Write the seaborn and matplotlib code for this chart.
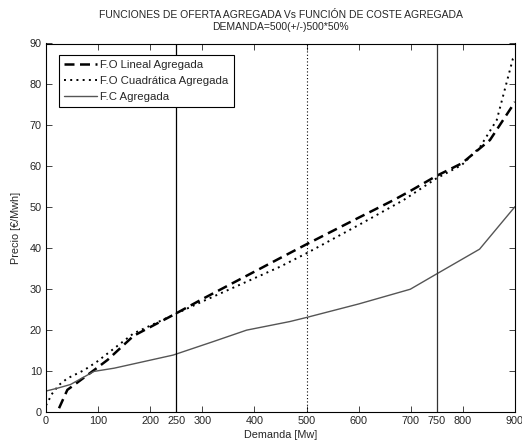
import matplotlib
matplotlib.use("Agg")
import matplotlib.pyplot as plt
import seaborn as sns
import pandas as pd

# Data
x_lineal = [25, 41, 54, 92, 118, 168, 244, 300, 400, 449, 500, 600, 667, 700, 749, 798, 852, 900]
y_lineal = [0.8, 5.3, 6.5, 10.1, 12.6, 18.5, 23.6, 27.5, 34.2, 37.5, 40.9, 47.4, 51.7, 54.0, 57.6, 60.7, 66.4, 75.7]

x_cuad = [0, 12, 25, 41, 73, 98, 168, 244, 300, 400, 449, 500, 600, 686, 749, 798, 833, 865, 896, 900]
y_cuad = [1.5, 4.4, 6.5, 8.1, 10.1, 12.2, 19.1, 23.6, 26.9, 32.6, 35.4, 38.7, 45.6, 51.7, 57.0, 60.3, 64.7, 71.3, 86.3, 87.0]

x_coste = [0, 22, 47, 92, 131, 244, 321, 385, 468, 500, 600, 699, 749, 832, 900]
y_coste = [5.0, 5.7, 6.6, 9.8, 10.6, 13.8, 17.1, 19.9, 22.0, 23.0, 26.3, 29.9, 33.6, 39.7, 50.1]

x_ticks = [0, 100, 200, 250, 300, 400, 500, 600, 700, 750, 800, 900]
y_ticks = [0, 10, 20, 30, 40, 50, 60, 70, 80, 90]
demand_lines = [250, 500, 750]

labels = ["F.O Lineal Agregada", "F.O Cuadrática Agregada", "F.C Agregada"]
title = "FUNCIONES DE OFERTA AGREGADA Vs FUNCIÓN DE COSTE AGREGADA\nDEMANDA=500(+/-)500*50%"

sns.set_style("ticks")
plt.rcParams['font.family'] = ['Liberation Sans', 'DejaVu Sans']
plt.rcParams['font.size'] = 7.5

fig = plt.figure(figsize=(5.22, 4.46), dpi=100)
ax = fig.add_axes([46/522, 1 - 411.5/446, (515-46)/522, (411.5-43.5)/446])

df_l = pd.DataFrame({"x": x_lineal, "y": y_lineal})
df_c = pd.DataFrame({"x": x_cuad, "y": y_cuad})
df_k = pd.DataFrame({"x": x_coste, "y": y_coste})

sns.lineplot(data=df_l, x="x", y="y", ax=ax, color="black", linewidth=1.8,
             linestyle=(0, (4, 2.2)), sort=False, estimator=None, label=labels[0])
sns.lineplot(data=df_c, x="x", y="y", ax=ax, color="black", linewidth=1.4,
             linestyle=(0, (1, 2.2)), sort=False, estimator=None, label=labels[1])
sns.lineplot(data=df_k, x="x", y="y", ax=ax, color="#555555", linewidth=1.0,
             sort=False, estimator=None, label=labels[2])

ax.axvline(demand_lines[0], color="black", linewidth=0.9)
ax.axvline(demand_lines[1], color="black", linewidth=0.8, linestyle=(0, (1, 2)))
ax.axvline(demand_lines[2], color="#333333", linewidth=0.9)

ax.set_xlim(0, 900)
ax.set_ylim(0, 90)
ax.set_xticks(x_ticks)
ax.set_yticks(y_ticks)
ax.tick_params(direction="in", top=True, right=True, length=4, width=0.6,
               labelsize=7.8, pad=3)
for s in ax.spines.values():
    s.set_linewidth(0.8)
    s.set_color("black")

ax.set_xlabel("Demanda [Mw]", fontsize=7.8, labelpad=3)
ax.set_ylabel("Precio [€/Mwh]", fontsize=7.8, labelpad=6)
ax.set_title(title, fontsize=7.5, pad=10, linespacing=1.15)

leg = ax.legend(loc="upper left", bbox_to_anchor=(0.027, 0.97), fancybox=False,
                edgecolor="black", framealpha=1, fontsize=8.2, handlelength=2.9,
                handletextpad=0.2, borderpad=0.5, labelspacing=0.5,
                borderaxespad=0)
leg.get_frame().set_linewidth(0.8)

fig.savefig("out.png", dpi=100)
